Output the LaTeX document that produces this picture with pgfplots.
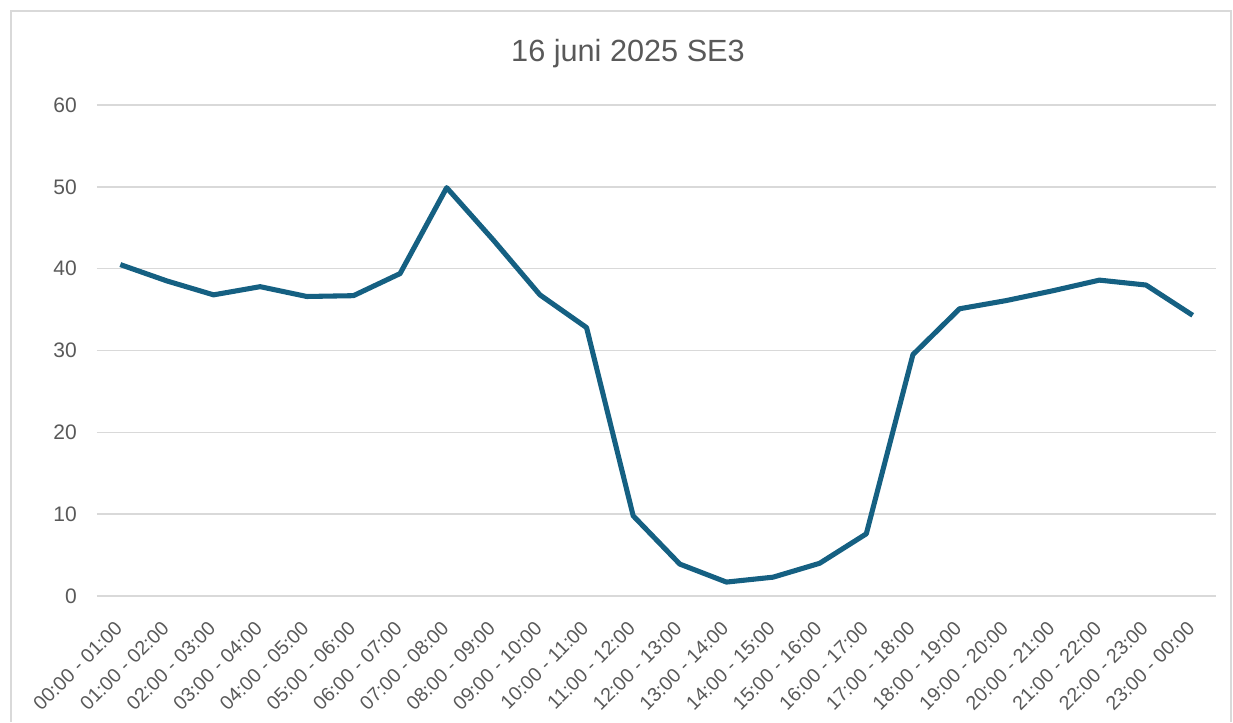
\documentclass[border=0pt]{standalone}
\usepackage{fontspec}
\setmainfont{Liberation Sans}
\usepackage{pgfplots}
\pgfplotsset{compat=1.18}
\definecolor{linec}{HTML}{156082}
\definecolor{gridc}{HTML}{D9D9D9}
\definecolor{txt}{HTML}{595959}
\begin{document}
\begin{tikzpicture}
\useasboundingbox (0,0) rectangle (924.75pt,541.5pt);
\draw[color=gridc, line width=0.8pt] (8.25pt,0pt) -- (8.25pt,533.25pt) -- (923.25pt,533.25pt) -- (923.25pt,0pt);
\node[text=txt, font=\fontsize{23}{27}\selectfont] at (471pt,501.5pt) {16 juni 2025 SE3};
\begin{axis}[
  at={(72.75pt,94.5pt)}, anchor=south west,
  scale only axis, width=839.25pt, height=368.25pt,
  xmin=-0.5, xmax=23.5, ymin=0, ymax=60,
  ytick={0,10,...,60},
  xtick={0,...,23},
  xticklabels={00:00 - 01:00,01:00 - 02:00,02:00 - 03:00,03:00 - 04:00,04:00 - 05:00,05:00 - 06:00,06:00 - 07:00,07:00 - 08:00,08:00 - 09:00,09:00 - 10:00,10:00 - 11:00,11:00 - 12:00,12:00 - 13:00,13:00 - 14:00,14:00 - 15:00,15:00 - 16:00,16:00 - 17:00,17:00 - 18:00,18:00 - 19:00,19:00 - 20:00,20:00 - 21:00,21:00 - 22:00,22:00 - 23:00,23:00 - 00:00},
  axis line style={draw=none},
  major tick length=0pt,
  ymajorgrids, major grid style={color=gridc, line width=1.1pt},
  /pgf/number format/assume math mode=true,
  ticklabel style={text=txt},
  yticklabel style={font=\fontsize{15.75}{18}\selectfont, anchor=east, inner sep=0pt, xshift=-15pt},
  xticklabel style={font=\fontsize{14.75}{17}\selectfont, rotate=45, anchor=north east, inner sep=0pt, xshift=-16pt, yshift=-9pt},
  clip=false,
]
\addplot[color=linec, line width=3.8pt, line join=round] coordinates {
(0,40.5) (1,38.5) (2,36.8) (3,37.8) (4,36.6) (5,36.7) (6,39.4) (7,49.9)
(8,43.5) (9,36.8) (10,32.8) (11,9.8) (12,3.9) (13,1.7) (14,2.3) (15,4.0)
(16,7.6) (17,29.5) (18,35.1) (19,36.1) (20,37.3) (21,38.6) (22,38.0) (23,34.3)
};
\end{axis}
\end{tikzpicture}
\end{document}
